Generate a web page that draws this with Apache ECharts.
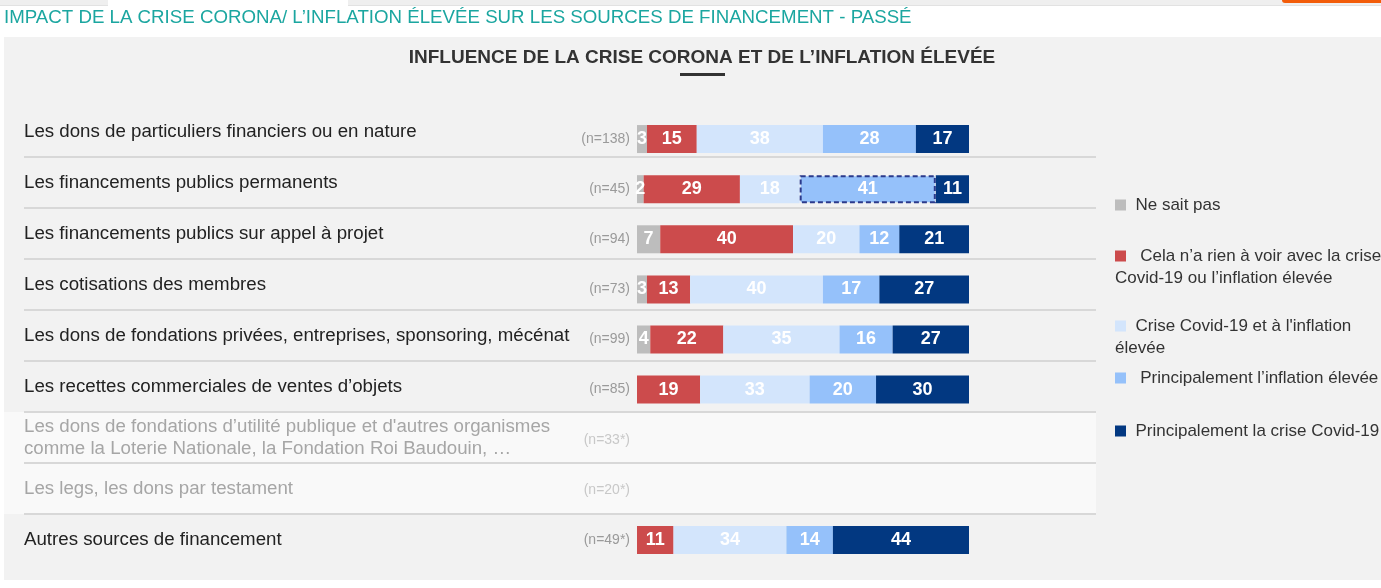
<!DOCTYPE html>
<html>
<head>
<meta charset="utf-8">
<script src="https://cdn.jsdelivr.net/npm/echarts@6/dist/echarts.min.js"></script>
<style>
  html, body { margin: 0; padding: 0; background: #ffffff; width: 1381px; height: 588px; overflow: hidden; }
  #strip { position: absolute; left: 0; top: 0; width: 1381px; height: 5px; background: #efefef; border-bottom: 1px solid #e2e2e2; }
  #tab { position: absolute; left: 108px; top: 0; width: 240px; height: 6px; background: #ffffff; }
  #orange { position: absolute; left: 1282px; top: 0; width: 99px; height: 3px; background: #f25c0a; border-bottom-left-radius: 4px; }
  #panel { position: absolute; left: 4px; top: 37px; width: 1377px; height: 543px; background: #f2f2f2; }
  #chart { position: absolute; left: 0; top: 0; width: 1381px; height: 588px; }
</style>
</head>
<body>
<div id="strip"></div>
<div id="tab"></div>
<div id="orange"></div>
<div id="panel"></div>
<div id="chart"></div>
<script>
// ---------- DATA ----------
const pageTitle = 'IMPACT DE LA CRISE CORONA/ L’INFLATION ÉLEVÉE SUR LES SOURCES DE FINANCEMENT - PASSÉ';
const chartTitle = 'INFLUENCE DE LA CRISE CORONA ET DE L’INFLATION ÉLEVÉE';

const categories = [
  'Les dons de particuliers financiers ou en nature',
  'Les financements publics permanents',
  'Les financements publics sur appel à projet',
  'Les cotisations des membres',
  'Les dons de fondations privées, entreprises, sponsoring, mécénat',
  'Les recettes commerciales de ventes d’objets',
  'Les dons de fondations d’utilité publique et d\'autres organismes\ncomme la Loterie Nationale, la Fondation Roi Baudouin, …',
  'Les legs, les dons par testament',
  'Autres sources de financement'
];
const nLabels = ['(n=138)', '(n=45)', '(n=94)', '(n=73)', '(n=99)', '(n=85)', '(n=33*)', '(n=20*)', '(n=49*)'];
const fadedRows = [6, 7];

const seriesNames = [
  'Ne sait pas',
  'Cela n’a rien à voir avec la crise Covid-19 ou l’inflation élevée',
  'Crise Covid-19 et à l\'inflation élevée',
  'Principalement l’inflation élevée',
  'Principalement la crise Covid-19'
];
const neSaitPas   = [3, 2, 7, 3, 4, null, null, null, null];
const rienAVoir   = [15, 29, 40, 13, 22, 19, null, null, 11];
const lesDeux     = [38, 18, 20, 40, 35, 33, null, null, 34];
const inflation   = [28, 41, 12, 17, 16, 20, null, null, 14];
const crisCovid   = [17, 11, 21, 27, 27, 30, null, null, 44];
const seriesValues = [neSaitPas, rienAVoir, lesDeux, inflation, crisCovid];

// ---------- STYLE ----------
const colors = ['#bdbdbd', '#cc4b4c', '#d3e5fc', '#95c1fa', '#023881'];
const legendLabels = [
  'Ne sait pas',
  ' Cela n’a rien à voir avec la crise\nCovid-19 ou l’inflation élevée',
  'Crise Covid-19 et à l\'inflation\nélevée',
  ' Principalement l’inflation élevée',
  'Principalement la crise Covid-19'
];
const legendTops = [194, 245, 315, 367, 420];
const FONT = 'Arial, "Liberation Sans", sans-serif';

const chart = echarts.init(document.getElementById('chart'), null, { renderer: 'canvas' });

const series = seriesValues.map((vals, s) => ({
  name: seriesNames[s],
  type: 'bar',
  stack: 'total',
  xAxisIndex: 0,
  yAxisIndex: 0,
  barWidth: 28,
  clip: true,
  itemStyle: { color: colors[s] },
  label: {
    show: true,
    position: 'inside',
    color: '#ffffff',
    fontFamily: FONT,
    fontWeight: 'bold',
    fontSize: 18,
    formatter: p => (p.value == null ? '' : String(p.value))
  },
  emphasis: { disabled: true },
  data: vals.map((v, i) => {
    if (s === 3 && i === 1) {
      return { value: v, itemStyle: { borderColor: '#2b3a8c', borderWidth: 2, borderType: [5, 3] } };
    }
    return v;
  })
}));

const legends = seriesNames.map((name, s) => ({
  data: [name],
  orient: 'vertical',
  left: 1110,
  top: legendTops[s],
  padding: 0,
  itemWidth: 0,
  itemHeight: 0,
  icon: 'rect',
  formatter: () => '{s| }  ' + legendLabels[s],
  textStyle: {
    fontFamily: FONT,
    fontSize: 17,
    color: '#333333',
    lineHeight: 22,
    rich: {
      s: { width: 11, height: 11, backgroundColor: colors[s], fontSize: 1, lineHeight: 22 }
    }
  }
}));

chart.setOption({
  animation: false,
  backgroundColor: 'transparent',
  title: [
    {
      text: pageTitle, left: 4, top: 8, padding: 0,
      textStyle: { fontFamily: FONT, fontSize: 18.7, fontWeight: 'normal', color: '#1ba6a0' }
    },
    {
      text: chartTitle, left: 702, top: 48, textAlign: 'center', padding: 0,
      textStyle: { fontFamily: FONT, fontSize: 19, fontWeight: 900, color: '#333333' }
    }
  ],
  legend: legends,
  tooltip: { show: false },
  grid: [
    { left: 637, width: 332, top: 114, height: 451, containLabel: false },
    { left: 637, width: 332, top: 106, height: 459, containLabel: false }
  ],
  xAxis: [
    { type: 'value', gridIndex: 0, min: 0, max: 100, show: false },
    { type: 'value', gridIndex: 1, min: 0, max: 100, show: false }
  ],
  yAxis: [
    {
      type: 'category', gridIndex: 0, inverse: true, data: categories,
      axisLine: { show: false }, axisTick: { show: false }, splitLine: { show: false },
      axisLabel: {
        margin: 7,
        fontFamily: FONT,
        fontSize: 14,
        interval: 0,
        formatter: (v, i) => nLabels[i],
        color: (v, i) => (fadedRows.indexOf(i) >= 0 ? '#c8c8c8' : '#9a9a9a')
      }
    },
    {
      type: 'category', gridIndex: 1, inverse: true, data: categories,
      axisLine: { show: false }, axisTick: { show: false }, splitLine: { show: false },
      axisLabel: {
        align: 'left',
        margin: 613,
        fontFamily: FONT,
        fontSize: 18.7,
        lineHeight: 22,
        padding: [3, 0, 0, 0],
        interval: 0,
        color: (v, i) => (fadedRows.indexOf(i) >= 0 ? '#a6a6a6' : '#222222')
      }
    }
  ],
  series: series
});

// ---------- decorations computed from the axis scale ----------
function addDecor() {
  const centers = categories.map((c, i) => chart.convertToPixel({ yAxisIndex: 1 }, i));
  const band = centers[1] - centers[0];
  const elements = [];
  const f0 = centers[fadedRows[0]] - band / 2;
  const f1 = centers[fadedRows[fadedRows.length - 1]] + band / 2;
  elements.push({
    type: 'rect', z: -10, silent: true,
    shape: { x: 4, y: f0, width: 1092, height: f1 - f0 },
    style: { fill: '#f9f9f9' }
  });
  for (let i = 0; i < categories.length - 1; i++) {
    const y = Math.round(centers[i] + band / 2);
    elements.push({
      type: 'line', z: 1, silent: true,
      shape: { x1: 24, y1: y, x2: 1096, y2: y },
      style: { stroke: '#d8d8d8', lineWidth: 2 }
    });
  }
  elements.push({
    type: 'rect', silent: true,
    shape: { x: 680, y: 73, width: 45, height: 3 },
    style: { fill: '#333333' }
  });
  chart.setOption({ graphic: { elements: elements } });
}
addDecor();
</script>
</body>
</html>
